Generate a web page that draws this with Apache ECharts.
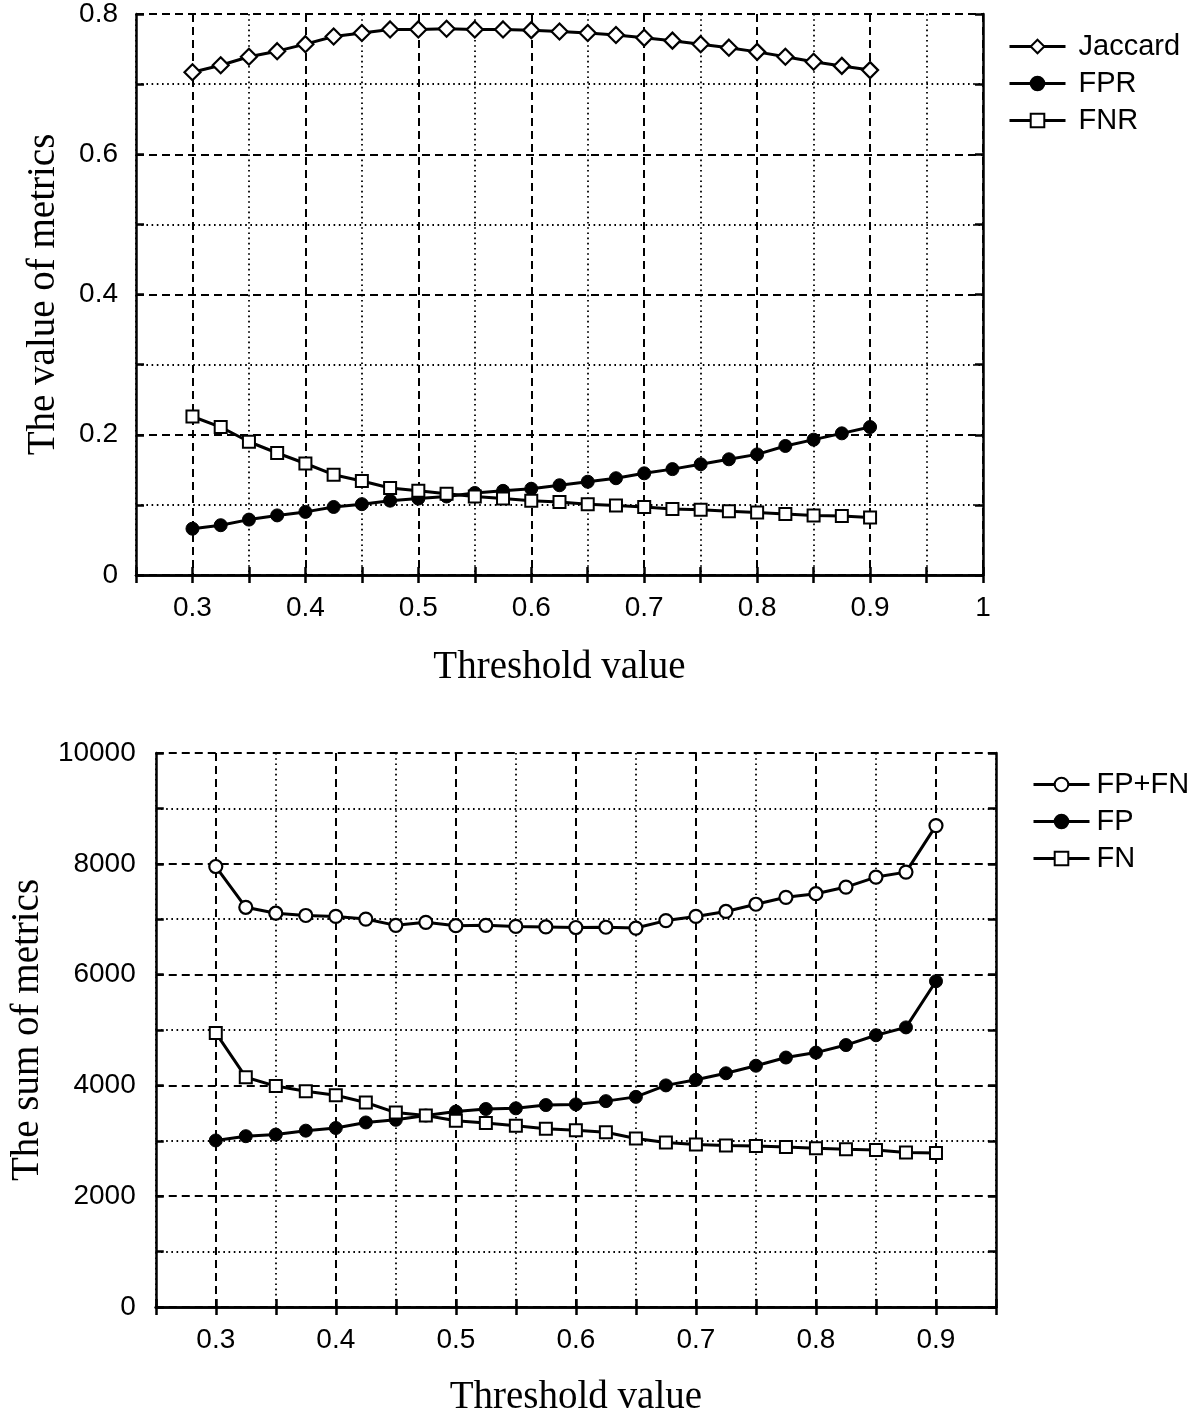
<!DOCTYPE html>
<html>
<head>
<meta charset="utf-8">
<script src="https://cdn.jsdelivr.net/npm/echarts@6/dist/echarts.min.js"></script>
<style>
html,body{margin:0;padding:0;background:#fff;}
#c{width:1200px;height:1418px;}
</style>
</head>
<body>
<div id="c"></div>
<script>
// ---------- data ----------
const thresholds = [0.3,0.325,0.35,0.375,0.4,0.425,0.45,0.475,0.5,0.525,0.55,0.575,0.6,0.625,0.65,0.675,0.7,0.725,0.75,0.775,0.8,0.825,0.85,0.875,0.9];

const jaccard = [0.717,0.727,0.739,0.747,0.757,0.768,0.773,0.778,0.778,0.779,0.778,0.778,0.777,0.775,0.773,0.770,0.766,0.762,0.757,0.752,0.746,0.739,0.732,0.726,0.720];
const fpr     = [0.066,0.071,0.079,0.085,0.090,0.097,0.101,0.106,0.109,0.112,0.117,0.120,0.123,0.128,0.133,0.138,0.145,0.151,0.158,0.165,0.172,0.184,0.193,0.202,0.211];
const fnr     = [0.226,0.211,0.190,0.174,0.159,0.143,0.134,0.124,0.120,0.116,0.112,0.109,0.106,0.104,0.101,0.099,0.097,0.094,0.093,0.091,0.089,0.087,0.085,0.084,0.082];

const fpfn = [7951,7215,7108,7067,7050,7002,6889,6943,6883,6889,6870,6860,6850,6855,6840,6975,7050,7140,7270,7395,7460,7580,7760,7850,8690];
const fp   = [3006,3083,3112,3183,3231,3331,3379,3456,3527,3574,3586,3645,3657,3716,3793,4000,4101,4219,4355,4503,4592,4728,4905,5047,5880];
const fn   = [4947,4148,3988,3893,3822,3692,3509,3456,3361,3320,3272,3219,3189,3154,3041,2970,2935,2917,2905,2888,2864,2846,2834,2787,2781];

const xTickLabelsTop    = ['0.3','0.4','0.5','0.6','0.7','0.8','0.9','1'];
const xTickLabelsBottom = ['0.3','0.4','0.5','0.6','0.7','0.8','0.9'];
const yTickLabelsTop    = ['0','0.2','0.4','0.6','0.8'];
const yTickLabelsBottom = ['0','2000','4000','6000','8000','10000'];

const namesTop = ['Jaccard','FPR','FNR'];
const namesBottom = ['FP+FN','FP','FN'];

// ---------- styling helpers ----------
const SANS = '"Liberation Sans", Arial, sans-serif';
const SERIF = '"Liberation Serif", "Times New Roman", serif';
const T = 'rgba(0,0,0,0)';
const DASH = [8,5];
const DOT = [1.6,3.6];

function labelFrom(list){
  return function(v){
    for (const s of list){ if (Math.abs(Number(s) - v) < 1e-6) return s; }
    return '';
  };
}

function xAxes(grid, max, labels, name, nameGap){
  const base = {type:'value', gridIndex:grid, min:0.25, max:max, interval:0.05};
  return [
    Object.assign({}, base, {
      position:'bottom',
      axisLine:{show:true, lineStyle:{color:'#000', width:2.5}},
      axisTick:{show:true, inside:true, length:8, lineStyle:{color:'#000', width:2.5}},
      axisLabel:{show:true, formatter:labelFrom(labels), color:'#000', fontFamily:SANS, fontSize:28, margin:19, showMinLabel:true, showMaxLabel:true, hideOverlap:false},
      splitLine:{show:true, lineStyle:{color:[T,'#000'], width:2, type:DASH}},
      name:name, nameLocation:'middle', nameGap:nameGap,
      nameTextStyle:{fontFamily:SERIF, fontSize:39, color:'#000'}
    }),
    Object.assign({}, base, {
      position:'bottom',
      axisLine:{show:false}, axisTick:{show:false}, axisLabel:{show:false},
      splitLine:{show:true, lineStyle:{color:['#000',T], width:1.8, type:DOT}}
    }),
    Object.assign({}, base, {
      position:'top',
      axisLine:{show:true, lineStyle:{color:'#000', width:2.5}},
      axisTick:{show:true, inside:true, length:8, lineStyle:{color:'#000', width:2.5}},
      axisLabel:{show:false}, splitLine:{show:false}
    })
  ];
}

function yAxes(grid, max, interval, labels, name, nameGap, margin){
  const base = {type:'value', gridIndex:grid, min:0, max:max, interval:interval};
  return [
    Object.assign({}, base, {
      position:'left',
      axisLine:{show:true, lineStyle:{color:'#000', width:2.5}},
      axisTick:{show:true, inside:true, length:8, lineStyle:{color:'#000', width:2.5}},
      axisLabel:{show:true, formatter:labelFrom(labels), color:'#000', fontFamily:SANS, fontSize:28, margin:margin, showMinLabel:true, showMaxLabel:true, hideOverlap:false},
      splitLine:{show:true, lineStyle:{color:['#000',T], width:2, type:DASH}},
      name:name, nameLocation:'middle', nameGap:nameGap, nameRotate:90,
      nameTextStyle:{fontFamily:SERIF, fontSize:39, color:'#000'}
    }),
    Object.assign({}, base, {
      position:'left',
      axisLine:{show:false}, axisTick:{show:false}, axisLabel:{show:false},
      splitLine:{show:true, lineStyle:{color:[T,'#000'], width:1.8, type:DOT}}
    }),
    Object.assign({}, base, {
      position:'right',
      axisLine:{show:true, lineStyle:{color:'#000', width:2.5}},
      axisTick:{show:true, inside:true, length:8, lineStyle:{color:'#000', width:2.5}},
      axisLabel:{show:false}, splitLine:{show:false}
    })
  ];
}

function pairs(ys){ return thresholds.map((t,i)=>[t, ys[i]]); }

function series(name, ys, xi, yi, symbol, size, fill, bw){
  return {
    name:name, type:'line', xAxisIndex:xi, yAxisIndex:yi,
    data:pairs(ys), symbol:symbol, symbolSize:size, showAllSymbol:true,
    lineStyle:{color:'#000', width:3},
    itemStyle:{color:fill, borderColor:'#000', borderWidth:bw, opacity:1},
    emphasis:{disabled:true}, z:3
  };
}

const legendBase = {orient:'vertical', padding:0, itemWidth:56, itemHeight:17, itemGap:8, selectedMode:false,
  lineStyle:{width:3, color:'#000'}};

const chart = echarts.init(document.getElementById('c'), null, {renderer:'canvas'});
chart.setOption({
  animation:false,
  backgroundColor:'#fff',
  grid:[
    {left:136, top:10, width:847, height:565, containLabel:false},
    {left:151, top:753, width:845, height:561, containLabel:false}
  ],
  xAxis:[].concat(
    xAxes(0, 1.0, xTickLabelsTop, 'Threshold value', 73),
    xAxes(1, 0.95, xTickLabelsBottom, 'Threshold value', 71)
  ),
  yAxis:[].concat(
    yAxes(0, 0.8, 0.1, yTickLabelsTop, 'The value of metrics', 73, 18),
    yAxes(1, 10000, 1000, yTickLabelsBottom, 'The sum of metrics', 108, 20)
  ),
  legend:[
    Object.assign({}, legendBase, {data:namesTop, left:1008, top:32,
      textStyle:{fontFamily:SANS, fontSize:29, color:'#000', padding:[0,0,0,8]}}),
    Object.assign({}, legendBase, {data:namesBottom, left:1032, top:770,
      textStyle:{fontFamily:SANS, fontSize:29, color:'#000', padding:[0,0,0,2]}})
  ],
  series:[
    series(namesTop[0], jaccard, 0, 0, 'diamond', 16, '#fff', 2.2),
    series(namesTop[1], fpr, 0, 0, 'circle', 13, '#000', 1),
    series(namesTop[2], fnr, 0, 0, 'rect', 12, '#fff', 2),
    series(namesBottom[0], fpfn, 3, 3, 'circle', 13, '#fff', 2.2),
    series(namesBottom[1], fp, 3, 3, 'circle', 13, '#000', 1),
    series(namesBottom[2], fn, 3, 3, 'rect', 12, '#fff', 2)
  ]
});
</script>
</body>
</html>
